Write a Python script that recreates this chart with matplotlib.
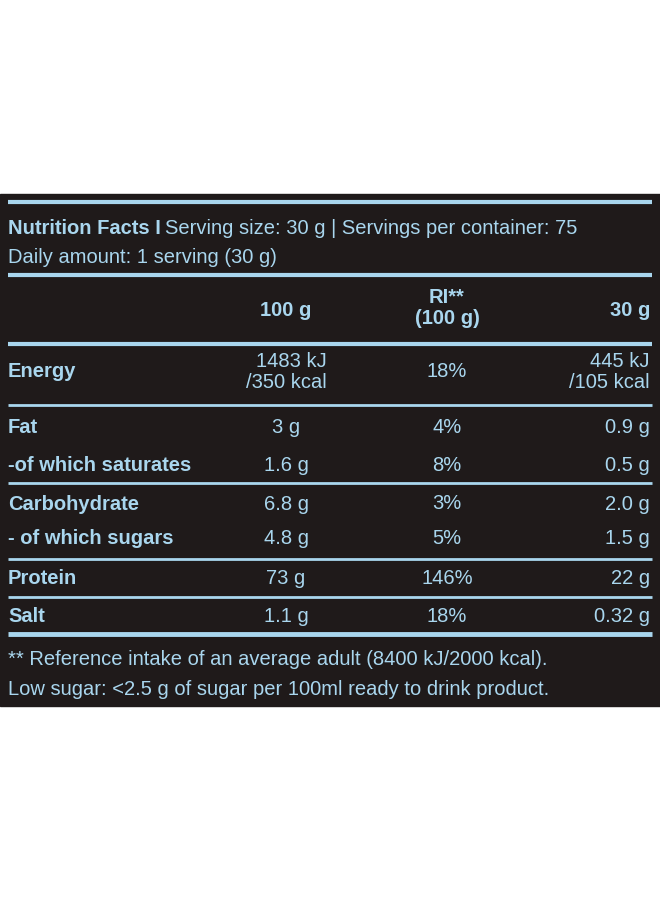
import matplotlib.pyplot as plt
from matplotlib import font_manager

names = {f.name for f in font_manager.fontManager.ttflist}
FONT = "Liberation Sans Narrow" if "Liberation Sans Narrow" in names else "Liberation Sans"

# table data
nutrients = ["Energy", "Fat", "-of which saturates", "Carbohydrate", "- of which sugars", "Protein", "Salt"]
per_100g = ["1483 kJ\n/350 kcal", "3 g", "1.6 g", "6.8 g", "4.8 g", "73 g", "1.1 g"]
ri_pct = ["18%", "4%", "8%", "3%", "5%", "146%", "18%"]
per_30g = ["445 kJ\n/105 kcal", "0.9 g", "0.5 g", "2.0 g", "1.5 g", "22 g", "0.32 g"]
row_y = [372, 428, 466, 504, 539, 579, 617]

BG = "#1f1a1a"
BLUE = "#a9d6ee"
FS = 14.5

fig = plt.figure(figsize=(6.6, 9.04), dpi=100)
ax = fig.add_axes([0, 0, 1, 1])
ax.set_xlim(0, 660)
ax.set_ylim(904, 0)
ax.axis("off")
ax.add_patch(plt.Rectangle((0, 195), 660, 512, color=BG, zorder=0))

def t(x, y, s, ha="left", bold=False, **kw):
    ax.text(x, y, s, ha=ha, va="center", color=BLUE, fontsize=FS, family=FONT,
            fontweight="bold" if bold else "normal", linespacing=1.15, **kw)

# rules
for y, lw in [(203, 3), (276, 3), (345, 3), (406, 2), (484, 2), (560, 2), (598, 2), (635, 3.5)]:
    ax.plot([8, 652], [y, y], color=BLUE, lw=lw, solid_capstyle="butt")

t(8, 228, "Nutrition Facts I", bold=True)
ax.text(165, 228, "Serving size: 30 g | Servings per container: 75", ha="left", va="center",
        color=BLUE, fontsize=FS, family=FONT)
t(8, 258, "Daily amount: 1 serving (30 g)")

t(286, 311, "100 g", ha="center", bold=True)
t(447, 308, "RI**\n(100 g)", ha="center", bold=True)
t(650, 311, "30 g", ha="right", bold=True)

for name, a, r, b, y in zip(nutrients, per_100g, ri_pct, per_30g, row_y):
    t(8, y, name, bold=True)
    t(286, y, a, ha="center", multialignment="right")
    t(447, y, r, ha="center")
    t(650, y, b, ha="right", multialignment="right")

t(8, 660, "** Reference intake of an average adult (8400 kJ/2000 kcal).")
t(8, 690, "Low sugar: <2.5 g of sugar per 100ml ready to drink product.")

fig.savefig("out.png", dpi=100, facecolor="white")
